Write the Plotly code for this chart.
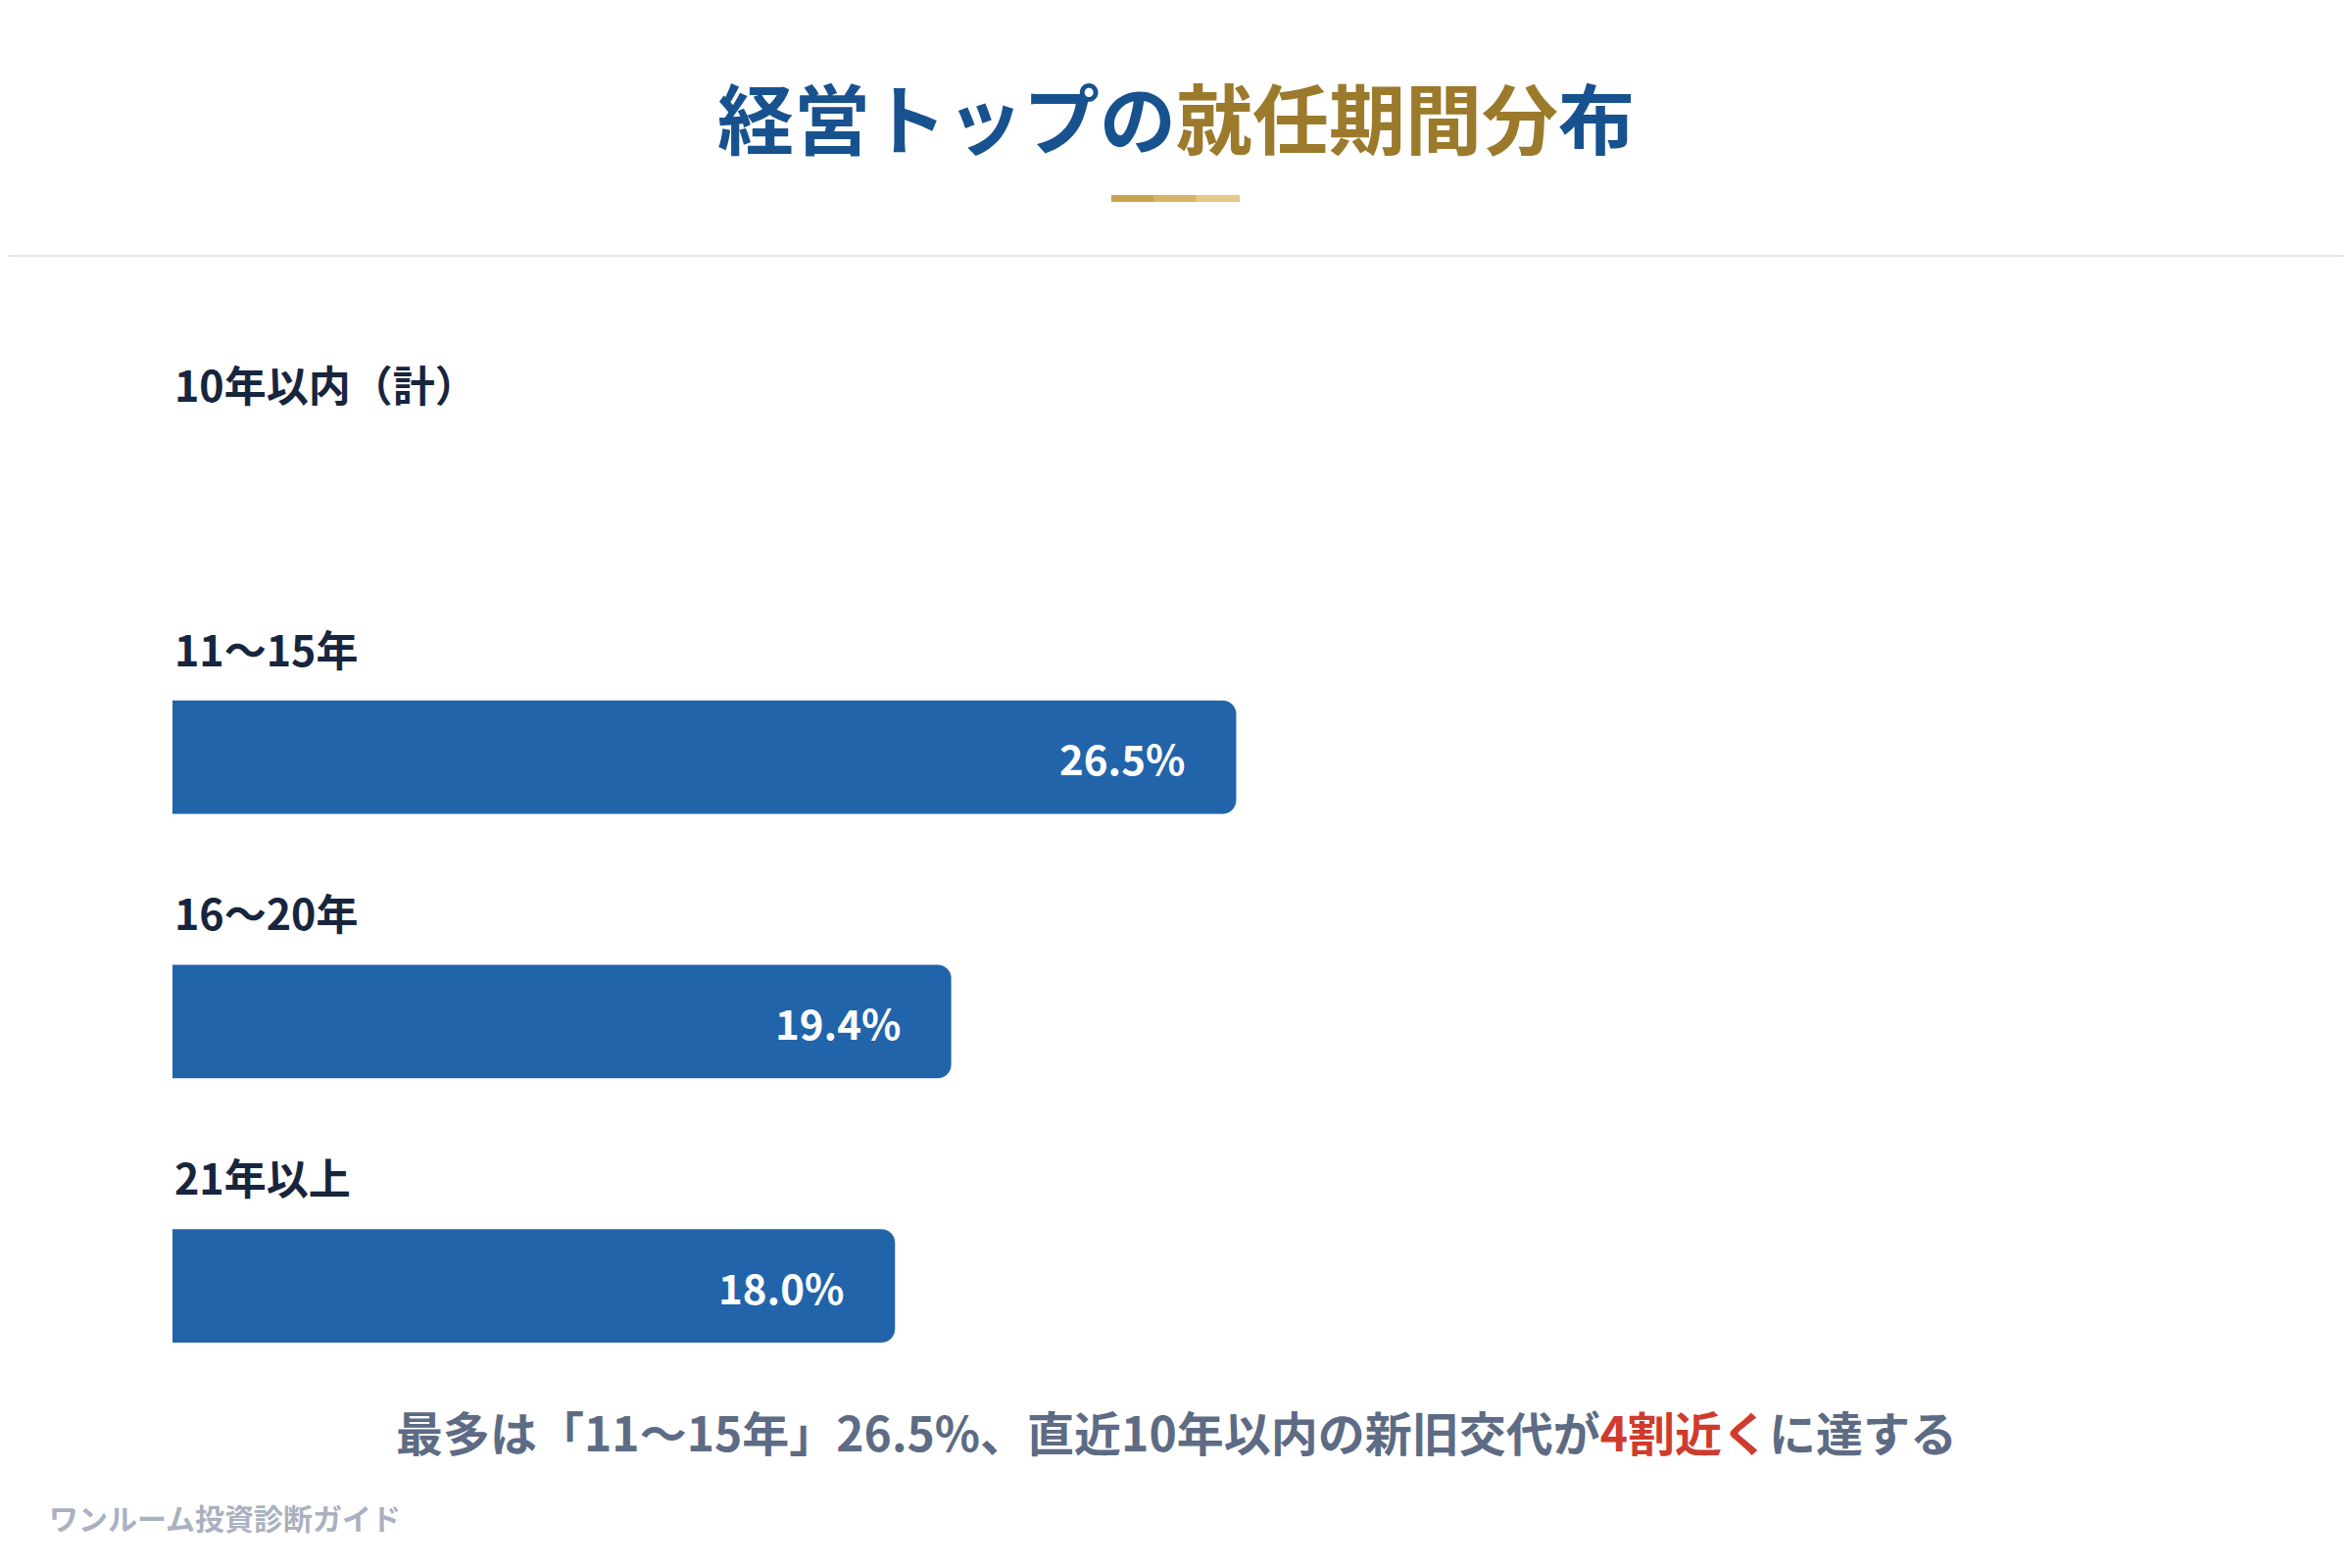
import plotly.graph_objects as go

# data
categories = ["10年以内（計）", "11〜15年", "16〜20年", "21年以上"]
values = [None, 26.5, 19.4, 18.0]   # first row has no bar drawn in the reference
value_labels = ["", "26.5%", "19.4%", "18.0%"]

FONT = "Noto Sans CJK JP"
BLUE = "#2164aa"
NAVY = "#17253d"

W, H = 2400, 1600
L, R, T, B = 168, 184, 360, 161   # page body adds 8px offset
PW, PH = W - L - R, H - T - B


def px(x):
    # page pixel -> paper x
    return (x - 8 - L) / PW


def py(y):
    # page pixel -> paper y
    return (H - B - (y - 8)) / PH


fig = go.Figure()
fig.add_trace(go.Bar(
    x=values, y=categories, orientation="h",
    marker=dict(color=BLUE, line=dict(width=0)),
    width=0.43, hoverinfo="skip", showlegend=False,
))

# category labels above each bar, value labels inside bar end
for cat, val, lab in zip(categories, values, value_labels):
    fig.add_annotation(x=0, y=cat, xref="x", yref="y", text="<b>" + cat + "</b>",
                       showarrow=False, xanchor="left", yanchor="middle", yshift=112,
                       font=dict(family=FONT, size=43, color=NAVY))
    if val is not None:
        fig.add_annotation(x=val, y=cat, xref="x", yref="y", text="<b>" + lab + "</b>",
                           showarrow=False, xanchor="right", yanchor="middle", xshift=-50,
                           font=dict(family=FONT, size=42, color="white"))

# title
fig.add_annotation(
    x=px(1200), y=py(118), xref="paper", yref="paper", showarrow=False,
    xanchor="center", yanchor="middle",
    text="<b><span style='color:#17528f'>経営トップの</span>"
         "<span style='color:#9c7a2c'>就任期間分</span>"
         "<span style='color:#17528f'>布</span></b>",
    font=dict(family=FONT, size=78, weight=900, color="#17528f"),
)

# footer note
fig.add_annotation(
    x=px(1200), y=py(1460), xref="paper", yref="paper", showarrow=False,
    xanchor="center", yanchor="middle",
    text="<b>最多は「11〜15年」26.5%、直近10年以内の新旧交代が"
         "<span style='color:#cf3b2e'>4割近く</span>に達する</b>",
    font=dict(family=FONT, size=48, color="#5d6b84"),
)
fig.add_annotation(
    x=px(48), y=py(1548), xref="paper", yref="paper", showarrow=False,
    xanchor="left", yanchor="middle", text="<b>ワンルーム投資診断ガイド</b>",
    font=dict(family=FONT, size=30, color="#a9b1c0"),
)

# gold underline (three steps for a light gradient) + separator
golds = ["#c9a24c", "#d6b466", "#e4c987"]
x0, x1 = 1134, 1264
step = (x1 - x0) / 3
for i, c in enumerate(golds):
    fig.add_shape(type="rect", xref="paper", yref="paper",
                  x0=px(x0 + i * step), x1=px(x0 + (i + 1) * step + 1),
                  y0=py(206), y1=py(199), fillcolor=c, line=dict(width=0))
fig.add_shape(type="line", xref="paper", yref="paper", x0=px(-20), x1=px(W + 20),
              y0=py(261), y1=py(261), line=dict(color="#e4e8ed", width=2))

fig.update_layout(
    width=W, height=H,
    margin=dict(l=L, r=R, t=T, b=B),
    paper_bgcolor="white", plot_bgcolor="white",
    barcornerradius=14,
    font=dict(family=FONT),
    xaxis=dict(range=[0, 50], visible=False, fixedrange=True),
    yaxis=dict(range=[3.5, -0.5], visible=False, fixedrange=True,
               categoryorder="array", categoryarray=categories),
)

fig.write_html("out.html")
